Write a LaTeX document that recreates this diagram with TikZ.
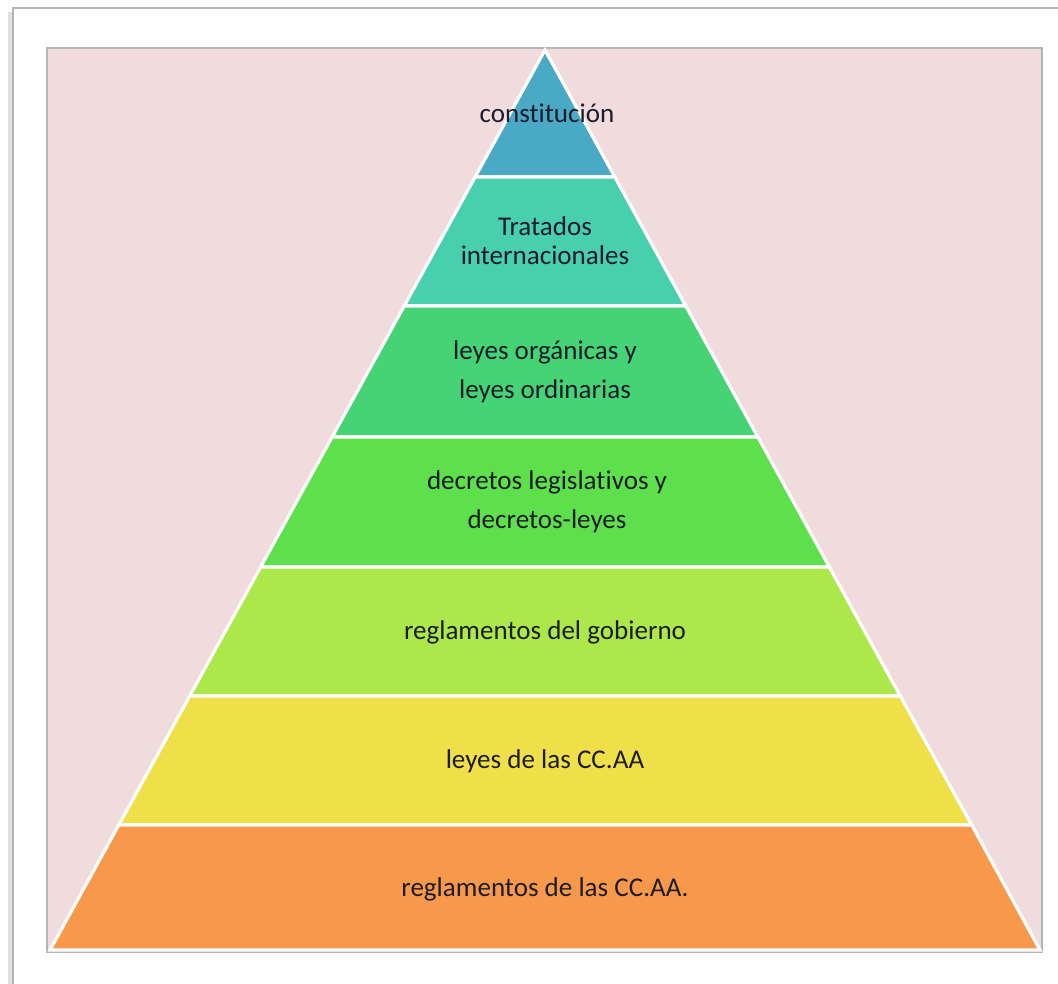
\documentclass[tikz,border=0pt]{standalone}
\usepackage{fontspec}
\setmainfont{Carlito}[Ligatures=NoCommon]
\definecolor{fondo}{HTML}{F0DCDC}
\definecolor{marco}{HTML}{B4B4B4}
\definecolor{textonivel}{HTML}{1C1C2A}
\definecolor{nivelA}{HTML}{4AA9C5}
\definecolor{nivelB}{HTML}{48CFAE}
\definecolor{nivelC}{HTML}{45D375}
\definecolor{nivelD}{HTML}{5EE04D}
\definecolor{nivelE}{HTML}{ADE84B}
\definecolor{nivelF}{HTML}{EFDF48}
\definecolor{nivelG}{HTML}{F7984A}
\tikzset{
  nivel/.style={draw=white, line width=2.4pt, line join=miter},
  rotulo/.style={text=textonivel, align=center, inner sep=0pt,
    font=\fontsize{20.3}{29.25}\selectfont},
}
\begin{document}
\begin{tikzpicture}[x=0.75pt, y=-0.75pt]
    \useasboundingbox (0,0) rectangle (1058,983);
    \clip (0,0) rectangle (1058,983);
    % hoja y marco
    \draw[black!12, line width=3pt] (10,12) -- (10,990);
    \draw[marco, fill=white, line width=1.1pt] (13,8) rectangle (1075,1000);
    \draw[marco, fill=fondo, line width=1.1pt] (47,48) rectangle (1042,952);
    % niveles de la piramide
    \draw[nivel, fill=nivelA] (545,50) -- (614.85,177) -- (475.15,177) -- cycle;
    \draw[nivel, fill=nivelB] (475.15,177) -- (614.85,177) -- (685.8,306) -- (404.2,306) -- cycle;
    \draw[nivel, fill=nivelC] (404.2,306) -- (685.8,306) -- (757.85,437) -- (332.15,437) -- cycle;
    \draw[nivel, fill=nivelD] (332.15,437) -- (757.85,437) -- (829.35,567) -- (260.65,567) -- cycle;
    \draw[nivel, fill=nivelE] (260.65,567) -- (829.35,567) -- (900.3,696) -- (189.7,696) -- cycle;
    \draw[nivel, fill=nivelF] (189.7,696) -- (900.3,696) -- (971.75,825) -- (118.75,825) -- cycle;
    \draw[nivel, fill=nivelG] (118.75,825) -- (971.75,825) -- (1040,950) -- (50,950) -- cycle;
    % rotulos
    \node[rotulo] (constitucion) at (547,113) {constitución};
    \node[rotulo, font=\fontsize{20.3}{21.75}\selectfont] (tratados) at (545,241) {Tratados\\internacionales};
    \node[rotulo] (leyes) at (545,372) {leyes orgánicas y\\leyes ordinarias};
    \node[rotulo] (decretos) at (547,502) {decretos legislativos y\\decretos-leyes};
    \node[rotulo] (reglgob) at (545,632) {reglamentos del gobierno};
    \node[rotulo] (leyesccaa) at (545,761) {leyes de las CC.AA};
    \node[rotulo] (reglccaa) at (545,889) {reglamentos de las CC.AA.};
\end{tikzpicture}
\end{document}
